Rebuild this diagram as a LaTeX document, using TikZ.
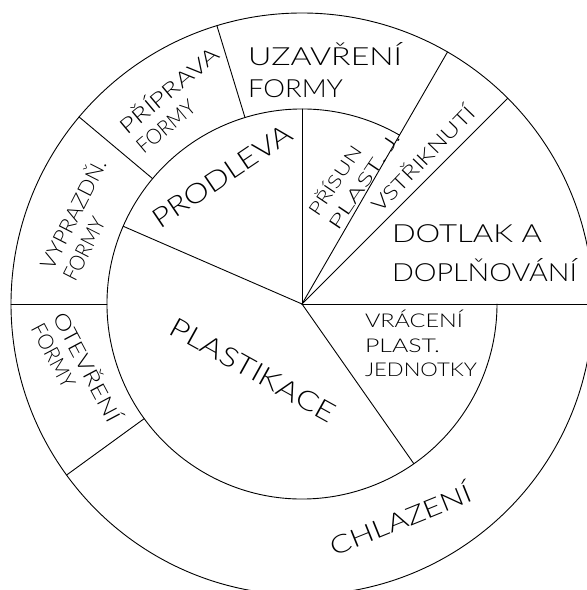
\documentclass[tikz,border=0pt]{standalone}
\usepackage{fontspec}
\setmainfont{Lato Light}
\usepackage{graphicx}
\newcommand\fitw[2]{\resizebox{#1}{\height}{#2}}
\newcommand\fzA{\fontsize{25}{30}\selectfont}
\newcommand\fzL{\fontsize{27}{32}\selectfont}
\newcommand\fzM{\fontsize{21}{25}\selectfont}
\newcommand\fzV{\fontsize{20}{24}\selectfont}
\newcommand\fzS{\fontsize{19}{23}\selectfont}
\newcommand\fzT{\fontsize{18}{24.3}\selectfont}
\tikzset{
  ring/.style={line width=0.9pt, line cap=round},
  lbl/.style={inner sep=0pt, outer sep=0pt},
  pair/.style={lbl, align=left},
}
\begin{document}
\begin{tikzpicture}[x=1pt,y=1pt]
\useasboundingbox (0,0) rectangle (587,590);
\fill[white] (0,0) rectangle (587,590);
\begin{scope}
\clip (0,0) rectangle (587,590);
\coordinate (c) at (302,286);
\draw[ring] (c) circle (291);
\draw[ring] ([shift={(60:195)}]c) arc (60:360:195);
\draw[ring] (c) -- ([shift={(0:300)}]c);
\draw[ring] (c) -- ([shift={(45:291)}]c);
\draw[ring] (c) -- ([shift={(60:291)}]c);
\draw[ring] (c) -- ([shift={(90:195)}]c);
\draw[ring] (c) -- ([shift={(156.5:195)}]c);
\draw[ring] (c) -- ([shift={(-55:195)}]c);
\foreach \a in {107,140,180,216}
  \draw[ring] ([shift={(\a:195)}]c) -- ([shift={(\a:291)}]c);
\end{scope}
% outer ring labels
\node[lbl, anchor=base west, font=\fzA] (uzav) at (248,524) {\fitw{154pt}{UZAVŘENÍ}};
\node[lbl, anchor=base west, font=\fzA] (uzavf) at (248,492) {\fitw{95pt}{FORMY}};
\node[pair, rotate=40, font=\fontsize{21}{25}\selectfont] (prip) at (176.5,491.4)
  {\fitw{122pt}{PŘÍPRAVA}\\\fitw{70pt}{FORMY}};
\node[pair, rotate=63, font=\fontsize{21}{25.5}\selectfont] (vypr) at (82.9,370.7)
  {\fitw{120pt}{VYPRAZDŇ.}\\\fitw{68pt}{FORMY}};
\node[pair, rotate=-62, font=\fontsize{21}{24.7}\selectfont] (otev) at (78.1,218.2)
  {\fitw{121pt}{OTEVŘENÍ}\\\fitw{70pt}{FORMY}};
\node[lbl, rotate=22, font=\fzA] (chlaz) at (400,72) {\fitw{150pt}{CHLAZENÍ}};
% inner labels
\node[lbl, rotate=34, font=\fzL] (prodl) at (222,414) {\fitw{162pt}{PRODLEVA}};
\node[lbl, rotate=-29, font=\fzL] (plastik) at (253,220) {\fitw{185pt}{PLASTIKACE}};
\node[pair, rotate=56, font=\fzT] (prisun) at (352.9,416.8)
  {\fitw{80pt}{PŘÍSUN}\\\fitw{113pt}{PLAST. J.}};
\node[lbl, rotate=46, font=\fzV] (vstr) at (422,432) {\fitw{138pt}{VSTŘIKNUTÍ}};
\node[lbl, anchor=base west, font=\fzA] (dotlak) at (392,347) {\fitw{150pt}{DOTLAK A}};
\node[lbl, anchor=base west, font=\fzA] (dopl) at (392,308) {\fitw{185pt}{DOPLŇOVÁNÍ}};
\node[lbl, anchor=base west, font=\fzS] (vrac) at (365,262) {\fitw{98pt}{VRÁCENÍ}};
\node[lbl, anchor=base west, font=\fzS] (plast) at (365,237) {\fitw{75pt}{PLAST.}};
\node[lbl, anchor=base west, font=\fzS] (jedn) at (365,213) {\fitw{112pt}{JEDNOTKY}};
\end{tikzpicture}
\end{document}
